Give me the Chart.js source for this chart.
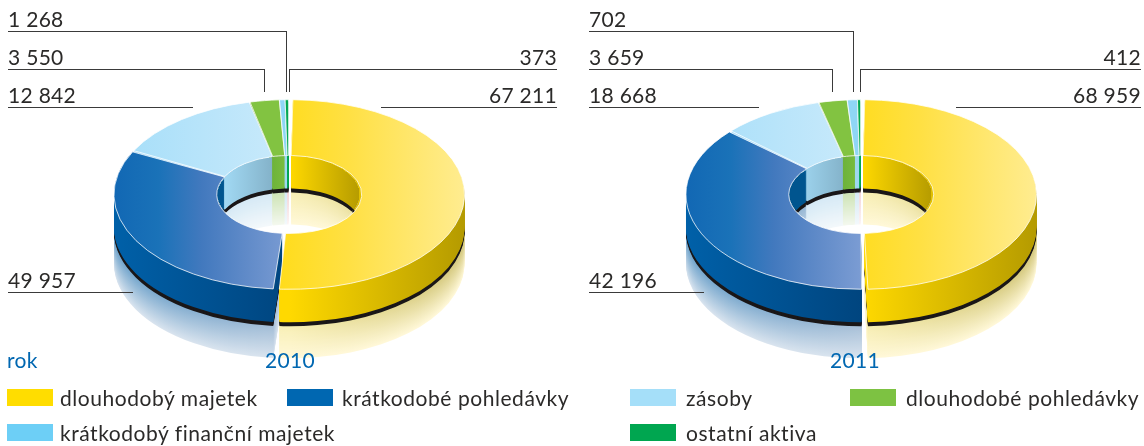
<!DOCTYPE html>
<html lang="cs">
<head>
<meta charset="utf-8">
<script src="https://cdn.jsdelivr.net/npm/chart.js@4"></script>
<style>
html, body { margin: 0; padding: 0; background: #fff; }
#page { position: relative; width: 1144px; height: 446px; overflow: hidden; font-family: Lato, sans-serif; font-size: 21px; color: #2b2a29; }
canvas { position: absolute; top: 0; }
.txt { position: absolute; white-space: nowrap; line-height: 24px; letter-spacing: 0.3px; }
.legendtxt { letter-spacing: 0.55px; }
.line { position: absolute; background: #3a3a3a; }
.blue { color: #0067b1; }
.swatch { position: absolute; width: 46px; height: 17px; }
</style>
</head>
<body>
<div id="page">
  <canvas id="chart2010" width="572" height="446" style="left:0"></canvas>
  <canvas id="chart2011" width="572" height="446" style="left:572px"></canvas>
</div>
<script>
// data
const categories = ['dlouhodobý majetek', 'krátkodobé pohledávky', 'zásoby', 'dlouhodobé pohledávky', 'krátkodobý finanční majetek', 'ostatní aktiva'];
const years = ['2010', '2011'];
const printed2010 = [67211, 49957, 12842, 3550, 1268, 373];
const printed2011 = [68959, 42196, 18668, 3659, 702, 412];
// the slices in the picture are crossed over: the 2010 donut has the 2011 proportions and the other way round
const slices2010 = printed2011;
const slices2011 = printed2010;

// look of the donut, stops run evenly from the left edge to the right edge
const legendColors = ['#ffdd00', '#0067b1', '#a5dff9', '#7dc242', '#6dcff6', '#00a650'];
const topColors = [
    ['#ffd900', '#ffd900', '#ffe043', '#ffec8f'],
    ['#1268b4', '#1a72b8', '#4279be', '#5f8ac8', '#7b9cd3', '#7b9cd3', '#7b9cd3', '#7b9cd3', '#7b9cd3'],
    ['#a5def9', '#caeafb', '#caeafb'],
    ['#82c341', '#82c341', '#82c341'],
    ['#8fd6f5', '#8fd6f5', '#8fd6f5'],
    ['#00a650', '#00a650', '#00a650']
];
const wallColors = [
    ['#ffd900', '#ffd900', '#b59b00'],
    ['#0060a8', '#00457f', '#00457f'],
    ['#a5def9', '#a5def9', '#a5def9'],
    ['#5a9e30', '#5a9e30', '#5a9e30'],
    ['#9ed8f0', '#9ed8f0', '#9ed8f0'],
    ['#00a650', '#00a650', '#00a650']
];
const innerWallColors = [
    ['#ffd900', '#ffd900', '#b59b00'],
    ['#00558f', '#00558f', '#00558f'],
    ['#a5def9', '#7aa5bb', '#7aa5bb'],
    ['#3f8a2b', '#7cbf3f', '#7cbf3f'],
    ['#9ed8f0', '#9ed8f0', '#9ed8f0'],
    ['#00a650', '#00a650', '#00a650']
];
const reflectColors = [
    ['#fbf3bf', '#f8efb5', '#d2c67a'],
    ['#6fa3cb', '#a8c0d8', '#a8c0d8'],
    ['#d5e9f5', '#d5e9f5', '#d5e9f5'],
    ['#cde3b5', '#cde3b5', '#cde3b5'],
    ['#d5e9f5', '#d5e9f5', '#d5e9f5'],
    ['#f3d5d8', '#f3d5d8', '#f3d5d8']
];
const reflectFade = ['#fff8d8', '#d8e3ee', '#f3f8fb', '#f3f8ee', '#f3f8fb', '#fbf3f3'];
// the yellow slice stands a little apart from the rest
const sliceNudge = [1.5, 0, 0, 0, 0, 0];

const outerR = 173.3, innerR = 70.5, squash = 0.543, centerY = 194.5;
const wallDepth = 33, shadowDepth = 4, reflectEnd = 69;

function toRgb(hex) {
    return [1, 3, 5].map(i => parseInt(hex.substr(i, 2), 16));
}
function mix(a, b, t) {
    const ca = toRgb(a), cb = toRgb(b);
    return 'rgb(' + ca.map((v, i) => Math.round(v + (cb[i] - v) * t)).join(',') + ')';
}
function hGradient(ctx, cx, r, stops) {
    const g = ctx.createLinearGradient(cx - r, 0, cx + r, 0);
    stops.forEach((c, n) => g.addColorStop(n / (stops.length - 1), c));
    return g;
}

// draws the library's arcs again, moved down by dy and flattened
function drawArcs(ctx, chart, dy, styleOf) {
    const arcs = chart.getDatasetMeta(0).data;
    arcs.forEach((arc, i) => {
        const copy = Object.create(arc);
        copy.options = Object.assign({}, arc.options, { borderWidth: 0 }, styleOf(i, arc));
        ctx.save();
        ctx.translate(arc.x + sliceNudge[i], centerY + dy);
        ctx.scale(1, squash);
        ctx.translate(-arc.x, -arc.y);
        copy.draw(ctx);
        ctx.restore();
    });
}

function drawBody(ctx, chart, r, walls) {
    // reflection on the floor, palest layer first
    for (let dy = reflectEnd; dy > wallDepth + shadowDepth; dy--) {
        const t = (dy - wallDepth - shadowDepth) / (reflectEnd - wallDepth - shadowDepth);
        drawArcs(ctx, chart, dy, (i, arc) => ({
            backgroundColor: hGradient(ctx, arc.x, outerR, reflectColors[i].map(c => mix(c, reflectFade[i], t)))
        }));
    }
    for (let dy = wallDepth + shadowDepth; dy > wallDepth; dy--) {
        drawArcs(ctx, chart, dy, () => ({ backgroundColor: '#1a1718' }));
    }
    for (let dy = wallDepth; dy > 0; dy--) {
        drawArcs(ctx, chart, dy, (i, arc) => ({ backgroundColor: hGradient(ctx, arc.x, r, walls[i]) }));
    }
}

const donut3d = {
    id: 'donut3d',
    beforeDatasetsDraw(chart) {
        const ctx = chart.ctx;
        const cx = chart.getDatasetMeta(0).data[0].x;
        drawBody(ctx, chart, outerR, wallColors);
        // the hole shows its own darker inner wall
        ctx.save();
        ctx.beginPath();
        ctx.ellipse(cx, centerY, innerR, innerR * squash, 0, 0, Math.PI * 2);
        ctx.clip();
        ctx.fillStyle = '#fff';
        ctx.fillRect(cx - innerR, centerY - innerR, innerR * 2, innerR * 2);
        drawBody(ctx, chart, innerR, innerWallColors);
        ctx.restore();
        drawArcs(ctx, chart, 0, (i, arc) => ({
            backgroundColor: hGradient(ctx, arc.x, outerR, topColors[i]),
            borderColor: '#fff',
            borderWidth: 1
        }));
        return false;
    }
};

function makeDonut(id, values) {
    return new Chart(document.getElementById(id), {
        type: 'doughnut',
        data: {
            labels: categories,
            datasets: [{ data: values, spacing: 2.5, borderWidth: 0 }]
        },
        options: {
            responsive: false,
            animation: false,
            radius: outerR,
            cutout: (innerR / outerR * 100) + '%',
            layout: { padding: { left: 5 } },
            plugins: { legend: { display: false }, tooltip: { enabled: false } }
        },
        plugins: [donut3d]
    });
}
makeDonut('chart2010', slices2010);
makeDonut('chart2011', slices2011);

// texts and leader lines
const page = document.getElementById('page');
function addText(text, x, y, right, cls) {
    const el = document.createElement('div');
    el.className = 'txt ' + (cls || '');
    el.textContent = text;
    el.style.top = y + 'px';
    if (right) el.style.right = (1144 - x) + 'px'; else el.style.left = x + 'px';
    page.appendChild(el);
}
function addLine(x, y, w, h) {
    const el = document.createElement('div');
    el.className = 'line';
    el.style.cssText = 'left:' + x + 'px;top:' + y + 'px;width:' + w + 'px;height:' + h + 'px';
    page.appendChild(el);
}
function fmt(v) {
    return String(v).replace(/\B(?=(\d{3})+$)/g, ' ');
}
function addLeaders(values, px) {
    const left = 8 + px, right = 557 + px;
    addText(fmt(values[4]), left, 7, false);
    addLine(left, 31, px ? 264 : 278, 1);
    addLine(px ? 853 : 286, 31, 1, 61);
    addText(fmt(values[3]), left, 45, false);
    addLine(left, 69, px ? 243 : 256, 1);
    addLine(px ? 832 : 264, 69, 1, 23);
    addText(fmt(values[2]), left, 83, false);
    addLine(left, 107, px ? 170 : 185, 1);
    addText(fmt(values[5]), px ? 1141 : right, 45, true);
    addLine(px ? 860 : 289, 69, px ? 281 : 268, 1);
    addLine(px ? 860 : 289, 69, 1, 23);
    addText(fmt(values[0]), px ? 1141 : right, 83, true);
    addLine(px ? 956 : 381, 107, px ? 185 : 176, 1);
    addText(fmt(values[1]), left, 268, false);
    addLine(left, 292, px ? 115 : 125, 1);
}
addLeaders(printed2010, 0);
addLeaders(printed2011, 581);
addText('rok', 7, 348, false, 'blue');
addText(years[0], 265, 348, false, 'blue');
addText(years[1], 830, 348, false, 'blue');

// legend
const legendPlaces = [[7, 60, 389], [287, 342, 389], [630, 686, 389], [850, 906, 389], [7, 60, 424], [630, 686, 424]];
categories.forEach((name, c) => {
    const p = legendPlaces[c];
    const sw = document.createElement('div');
    sw.className = 'swatch';
    sw.style.cssText = 'left:' + p[0] + 'px;top:' + p[2] + 'px;background:' + legendColors[c];
    page.appendChild(sw);
    addText(name, p[1], p[2] - 3, false, 'legendtxt');
});
</script>
</body>
</html>
